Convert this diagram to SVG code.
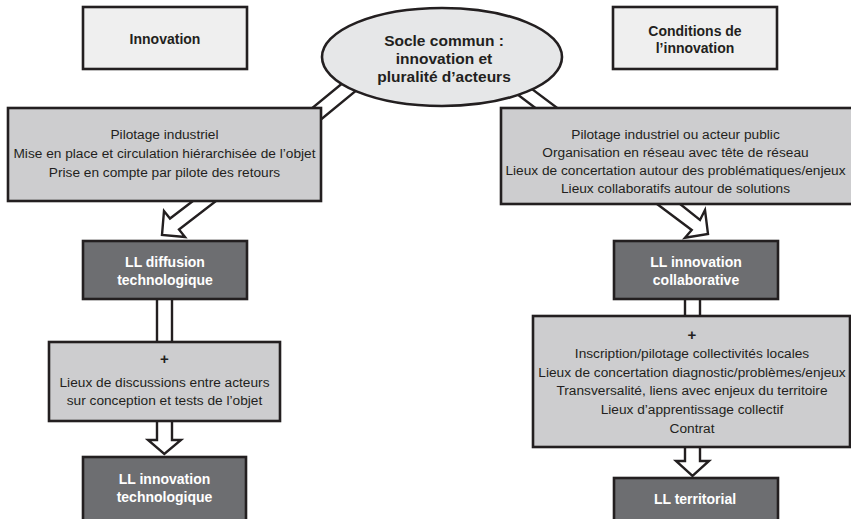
<svg xmlns="http://www.w3.org/2000/svg" width="851" height="519" viewBox="0 0 851 519">
<style>
.t{font-family:"Liberation Sans",Arial,sans-serif;font-size:13.7px;fill:#231f20;text-anchor:middle}
.b{font-family:"Liberation Sans",Arial,sans-serif;font-size:14px;font-weight:bold;fill:#231f20;text-anchor:middle}
.e{font-size:15.5px}
.p{font-weight:bold;font-size:15px}
.w{font-family:"Liberation Sans",Arial,sans-serif;font-size:14px;font-weight:bold;fill:#ffffff;text-anchor:middle}
.hdr{fill:#efefef;stroke:#231f20;stroke-width:2.6}
.gry{fill:#cdcdcf;stroke:#231f20;stroke-width:2.6}
.drk{fill:#6d6e71;stroke:#231f20;stroke-width:2.6}
.con{fill:#ffffff;stroke:#231f20;stroke-width:2.4;stroke-linejoin:miter}
</style>
<rect width="851" height="519" fill="#ffffff"/>
<g id="connectors">
<polygon class="con" points="350,77 300,118 313,126 363,85"/>
<polygon class="con" points="505,85 546,116 568,116 520,80"/>
<polygon class="con" points="206,191 170,218.5 164,211 162,235 185,237 179,229.5 229,191"/>
<polygon class="con" points="643.7,194 691.7,230 685,237.7 708,234 705,210 700,220 667.5,194"/>
<rect class="con" x="157" y="295" width="15" height="50"/>
<polygon class="con" points="157,415 157,440 148,440 164.3,454 181,440 172,440 172,415"/>
<rect class="con" x="685" y="295" width="15" height="25"/>
<polygon class="con" points="685,440 685,461 676,461 692.5,476 709,461 700,461 700,440"/>
</g>
<g id="innovation">
<rect class="hdr" x="83" y="7" width="164" height="62"/>
<text class="b" x="165" y="44">Innovation</text>
</g>
<g id="socle">
<ellipse cx="442" cy="57" rx="120" ry="49" fill="#e6e7e8" stroke="#231f20" stroke-width="2.6"/>
<text class="b e" x="444" y="46">Socle commun :</text>
<text class="b e" x="444" y="64">innovation et</text>
<text class="b e" x="444" y="82">pluralité d’acteurs</text>
</g>
<g id="conditions">
<rect class="hdr" x="613" y="7" width="164" height="62"/>
<text class="b" x="695" y="36">Conditions de</text>
<text class="b" x="695" y="53">l’innovation</text>
</g>
<g id="pilotage-left">
<rect class="gry" x="8" y="108" width="313" height="93"/>
<text class="t" x="164.5" y="139">Pilotage industriel</text>
<text class="t" x="164.5" y="158">Mise en place et circulation hiérarchisée de l’objet</text>
<text class="t" x="164.5" y="177">Prise en compte par pilote des retours</text>
</g>
<g id="pilotage-right">
<rect class="gry" x="501" y="108" width="352" height="96"/>
<text class="t" x="675.5" y="139">Pilotage industriel ou acteur public</text>
<text class="t" x="675.5" y="157">Organisation en réseau avec tête de réseau</text>
<text class="t" x="675.5" y="175">Lieux de concertation autour des problématiques/enjeux</text>
<text class="t" x="675.5" y="193">Lieux collaboratifs autour de solutions</text>
</g>
<g id="ll-diffusion">
<rect class="drk" x="83" y="241" width="164" height="58"/>
<text class="w" x="165" y="267">LL diffusion</text>
<text class="w" x="165" y="285">technologique</text>
</g>
<g id="ll-collaborative">
<rect class="drk" x="614" y="241" width="164" height="58"/>
<text class="w" x="696" y="267">LL innovation</text>
<text class="w" x="696" y="285">collaborative</text>
</g>
<g id="plus-left">
<rect class="gry" x="49" y="342" width="231" height="79"/>
<text class="t p" x="164.5" y="364">+</text>
<text class="t" x="164.5" y="387">Lieux de discussions entre acteurs</text>
<text class="t" x="164.5" y="405">sur conception et tests de l’objet</text>
</g>
<g id="plus-right">
<rect class="gry" x="533" y="316" width="317" height="131"/>
<text class="t p" x="692" y="340">+</text>
<text class="t" x="692" y="358">Inscription/pilotage collectivités locales</text>
<text class="t" x="692" y="377">Lieux de concertation diagnostic/problèmes/enjeux</text>
<text class="t" x="692" y="395">Transversalité, liens avec enjeux du territoire</text>
<text class="t" x="692" y="414">Lieux d’apprentissage collectif</text>
<text class="t" x="692" y="433">Contrat</text>
</g>
<g id="ll-technologique">
<rect class="drk" x="83" y="457" width="163" height="66"/>
<text class="w" x="164.5" y="484">LL innovation</text>
<text class="w" x="164.5" y="502">technologique</text>
</g>
<g id="ll-territorial">
<rect class="drk" x="614" y="478" width="164" height="45"/>
<text class="w" x="695" y="504">LL territorial</text>
</g>
</svg>
